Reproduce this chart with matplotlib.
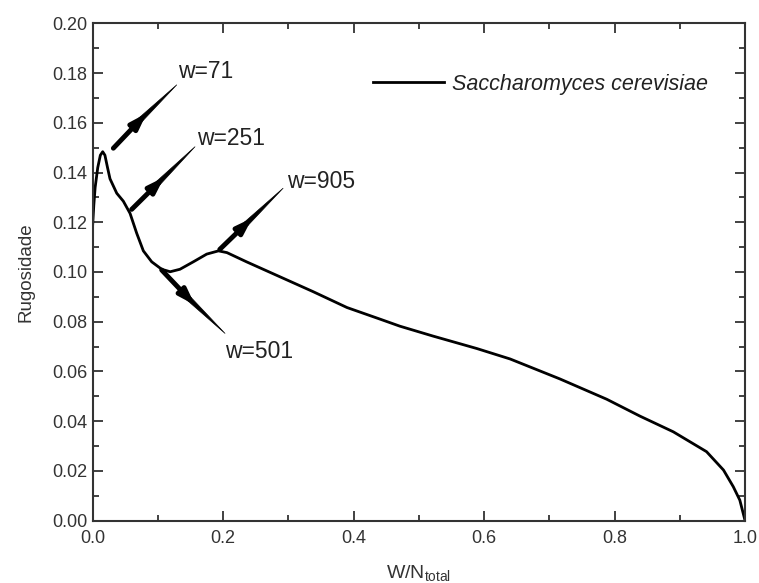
import matplotlib
matplotlib.use("Agg")
import matplotlib.pyplot as plt
from matplotlib.ticker import MultipleLocator, FormatStrFormatter

plt.rcParams['font.family'] = ['Liberation Sans', 'DejaVu Sans']

# Curve data
x_vals = [0.000, 0.002, 0.004, 0.008, 0.012, 0.0156, 0.019, 0.023, 0.0268, 0.0371, 0.0472, 0.0575,
          0.0677, 0.0779, 0.0907, 0.106, 0.119, 0.134, 0.1545, 0.175, 0.193, 0.206,
          0.236, 0.287, 0.338, 0.390, 0.441, 0.471, 0.522, 0.589, 0.640, 0.716,
          0.788, 0.839, 0.890, 0.941, 0.967, 0.982, 0.992, 1.000]
y_vals = [0.118, 0.127, 0.134, 0.142, 0.1470, 0.1484, 0.1470, 0.1420, 0.1375, 0.1317, 0.1285, 0.1236,
          0.1156, 0.1085, 0.1041, 0.1011, 0.1001, 0.1011, 0.1041, 0.1072, 0.1085, 0.1078,
          0.1041, 0.0981, 0.0921, 0.0857, 0.0810, 0.0782, 0.0742, 0.0692, 0.0650, 0.0570,
          0.0488, 0.0420, 0.0357, 0.0277, 0.0203, 0.0136, 0.0082, 0.000]

series_label = "Saccharomyces cerevisiae"

# Annotations: label, arrow start (on curve), arrow head (middle), arrow end, text position
ann_labels = ["w=71", "w=251", "w=905", "w=501"]
ann_start = [(0.0319, 0.1498), (0.060, 0.1252), (0.195, 0.1091), (0.106, 0.1008)]
ann_mid = [(0.083, 0.1639), (0.110, 0.1382), (0.245, 0.1218), (0.157, 0.0867)]
ann_end = [(0.129, 0.1753), (0.157, 0.1504), (0.292, 0.1337), (0.203, 0.0753)]
ann_text = [(0.131, 0.1805), (0.160, 0.1538), (0.298, 0.1363), (0.203, 0.0680)]

fig = plt.figure(figsize=(7.59, 5.83), dpi=100)
ax = fig.add_axes([0.1219, 0.1072, 0.9816 - 0.1219, 0.9597 - 0.1072])

ax.plot(x_vals, y_vals, color='black', lw=2.0, label=series_label)

for lab, s, m, e, t in zip(ann_labels, ann_start, ann_mid, ann_end, ann_text):
    ax.annotate('', xy=m, xytext=s,
                arrowprops=dict(arrowstyle='-|>,head_length=0.9,head_width=0.3',
                                color='black', lw=3.5, shrinkA=0, shrinkB=0))
    # tapering tail starts inside the arrow head so there is no gap
    tail = (s[0] + 0.8 * (m[0] - s[0]), s[1] + 0.8 * (m[1] - s[1]))
    ax.annotate('', xy=e, xytext=tail,
                arrowprops=dict(arrowstyle='wedge,tail_width=0.35,shrink_factor=0.5',
                                color='black', lw=0.5, shrinkA=0, shrinkB=0))
    ax.text(t[0], t[1], lab, fontsize=16.5, color='#222222', ha='left', va='center')

ax.set_xlim(0, 1.0)
ax.set_ylim(0, 0.20)
ax.xaxis.set_major_locator(MultipleLocator(0.2))
ax.xaxis.set_minor_locator(MultipleLocator(0.1))
ax.yaxis.set_major_locator(MultipleLocator(0.02))
ax.yaxis.set_minor_locator(MultipleLocator(0.01))
ax.xaxis.set_major_formatter(FormatStrFormatter('%.1f'))
ax.yaxis.set_major_formatter(FormatStrFormatter('%.2f'))

ax.tick_params(which='both', direction='in', top=True, right=True,
               colors='#333333', labelcolor='#333333', labelsize=13, width=1.3)
ax.tick_params(which='major', length=7)
ax.tick_params(which='minor', length=4)
ax.tick_params(axis='x', which='major', pad=7)
for sp in ax.spines.values():
    sp.set_color('#333333')
    sp.set_linewidth(1.5)

ax.set_ylabel('Rugosidade', fontsize=13.5, color='#333333', labelpad=13)
ax.set_xlabel(r'W/N$_{\mathregular{total}}$', fontsize=14, color='#333333', labelpad=12)

leg = ax.legend(loc='upper right', bbox_to_anchor=(0.96, 0.92), frameon=False,
                prop={'style': 'italic', 'size': 15.5}, handlelength=3.3,
                handletextpad=0.4, borderpad=0)
for t in leg.get_texts():
    t.set_color('#222222')

fig.savefig('out.png', dpi=100)
